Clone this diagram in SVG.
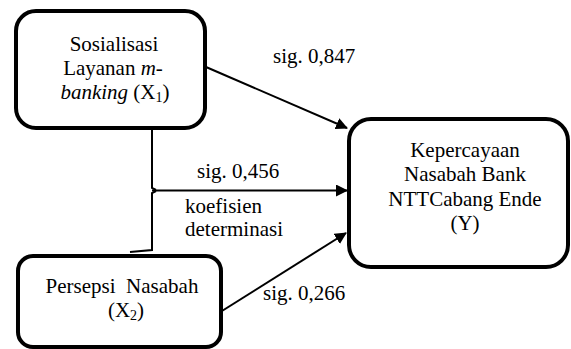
<svg xmlns="http://www.w3.org/2000/svg" width="571" height="349" viewBox="0 0 571 349">
<style>
.box{fill:#fff;stroke:#000;stroke-width:4}
.t{font-family:'Liberation Serif','Times New Roman',serif;font-size:21px;fill:#000}
.c{text-anchor:middle}
.ln{fill:none;stroke:#000;stroke-width:2}
.sub{font-size:14px}
</style>
<defs>
<marker id="ah" markerWidth="12" markerHeight="12" refX="11" refY="6" orient="auto" markerUnits="userSpaceOnUse" viewBox="0 0 12 12">
<path d="M0,0 L12,6 L0,12 z" fill="#000"/>
</marker>
</defs>
<g id="connectors">
<path class="ln" d="M152,128 L152,188 L156,190"/>
<path class="ln" d="M156,191 L152,193 L152,250 L130,252"/>
<line class="ln" x1="152" y1="190.5" x2="347" y2="190.5" marker-end="url(#ah)"/>
<line class="ln" x1="206" y1="67" x2="347" y2="128" marker-end="url(#ah)"/>
<line class="ln" x1="206" y1="321" x2="346" y2="233" marker-end="url(#ah)"/>
<text class="t" x="273" y="63">sig. 0,847</text>
<text class="t" x="197" y="178">sig. 0,456</text>
<text class="t" x="185" y="213">koefisien</text>
<text class="t" x="185" y="236">determinasi</text>
<text class="t" x="263" y="300">sig. 0,266</text>
</g>
<g id="x1">
<rect class="box" x="16" y="11" width="189" height="117" rx="20"/>
<text class="t c" x="114" y="51">Sosialisasi</text>
<text class="t c" x="113" y="75">Layanan <tspan font-style="italic">m-</tspan></text>
<text class="t c" x="115" y="99"><tspan font-style="italic">banking</tspan> (X<tspan class="sub" dy="3">1</tspan><tspan dy="-3">)</tspan></text>
</g>
<g id="x2">
<rect class="box" x="18" y="256" width="203" height="91" rx="15"/>
<text class="t c" x="122" y="293" xml:space="preserve">Persepsi  Nasabah</text>
<text class="t c" x="126" y="317">(X<tspan class="sub" dy="3">2</tspan><tspan dy="-3">)</tspan></text>
</g>
<g id="y">
<rect class="box" x="349" y="119" width="219" height="148" rx="22"/>
<text class="t c" x="465" y="157">Kepercayaan</text>
<text class="t c" x="465" y="181">Nasabah Bank</text>
<text class="t c" x="465" y="206">NTTCabang Ende</text>
<text class="t c" x="465" y="230">(Y)</text>
</g>
</svg>
